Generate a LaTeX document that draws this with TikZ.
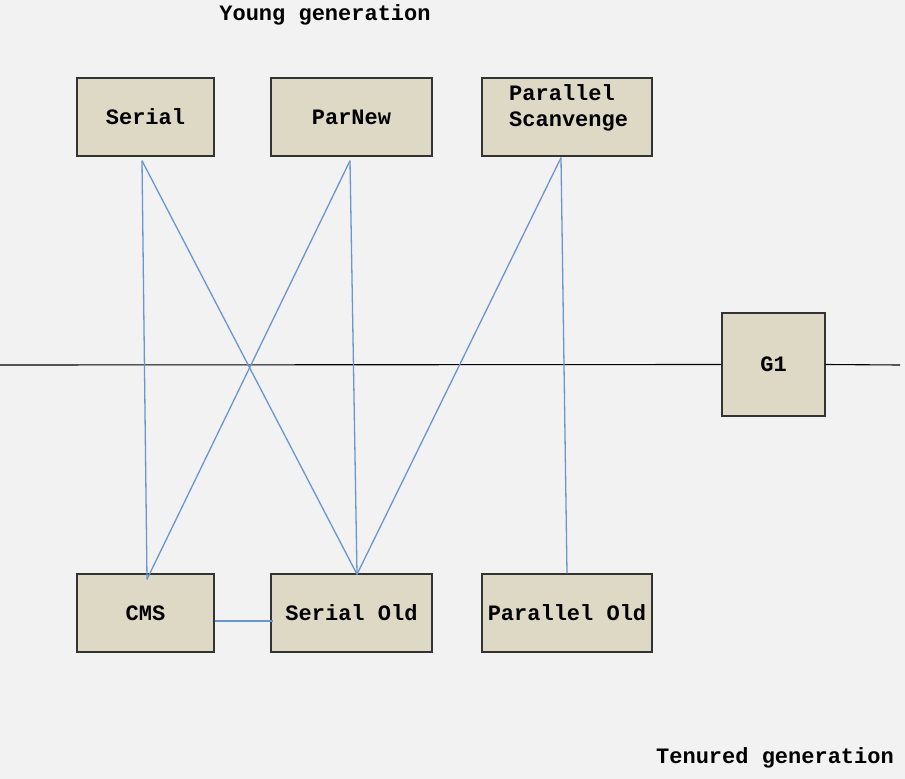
\documentclass[tikz,border=0pt]{standalone}
\usepackage{fontspec}
\setmainfont{Liberation Mono}
\usepackage{xcolor}
\definecolor{bgcol}{HTML}{F2F2F2}
\definecolor{boxfill}{HTML}{DDD9C4}
\definecolor{linkblue}{HTML}{6A96CE}
\tikzset{
  gcbox/.style={draw=black!80, line width=1.4pt, fill=boxfill, inner sep=0pt,
    font=\fontsize{22}{26}\selectfont\bfseries},
  link/.style={color=linkblue, line width=1.3pt},
  gen/.style={font=\fontsize{22}{26}\selectfont\bfseries, inner sep=0pt}
}
\begin{document}
\begin{tikzpicture}[x=1pt, y=-1pt]
\fill [bgcol] (0,0) rectangle (905,779);
\useasboundingbox (0,0) rectangle (905,779);
% generation border
\coordinate (L) at (0,365);
\coordinate (R) at (900,365);
\node [gcbox, minimum width=103pt, minimum height=103pt] (g1) at (773.5,364.5) {G1};
\draw [line width=1.1pt] (L) -- (g1.west);
\draw [line width=1.1pt] (g1.east) -- (R);
% young collectors
\node [gcbox, minimum width=137pt, minimum height=78pt] (serial) at (145.5,117) {Serial};
\node [gcbox, minimum width=161pt, minimum height=78pt] (parnew) at (351.5,117) {ParNew};
\node [gcbox, minimum width=170pt, minimum height=78pt] (ps) at (567,117) {};
\node [gen, anchor=north west, align=left] (pstext) at (509,84) {Parallel\\Scanvenge};
% tenured collectors
\node [gcbox, minimum width=137pt, minimum height=78pt] (cms) at (145.5,613) {CMS};
\node [gcbox, minimum width=161pt, minimum height=78pt] (serialold) at (351.5,613) {Serial Old};
\node [gcbox, minimum width=170pt, minimum height=78pt] (parold) at (567,613) {Parallel Old};
% labels
\node [gen] (young) at (325,15) {Young generation};
\node [gen, anchor=east] (tenured) at (894,758) {Tenured generation};
% combinations
\draw [link] ([xshift=-3.5pt, yshift=-4pt]serial.south) -- ([xshift=1.5pt, yshift=-6pt]cms.north);
\draw [link] ([xshift=-3.5pt, yshift=-4pt]serial.south) -- ([xshift=5.5pt, yshift=-1pt]serialold.north);
\draw [link] ([xshift=-1.5pt, yshift=-4pt]parnew.south) -- ([xshift=1.5pt, yshift=-6pt]cms.north);
\draw [link] ([xshift=-1.5pt, yshift=-4pt]parnew.south) -- ([xshift=5.5pt, yshift=-1pt]serialold.north);
\draw [link] ([xshift=-6pt, yshift=-1pt]ps.south) -- ([xshift=5.5pt, yshift=-1pt]serialold.north);
\draw [link] ([xshift=-6pt, yshift=-1pt]ps.south) -- (parold.north);
\draw [link] ([yshift=-8pt]cms.east) -- ([xshift=3pt, yshift=-8pt]serialold.west);
\end{tikzpicture}
\end{document}
